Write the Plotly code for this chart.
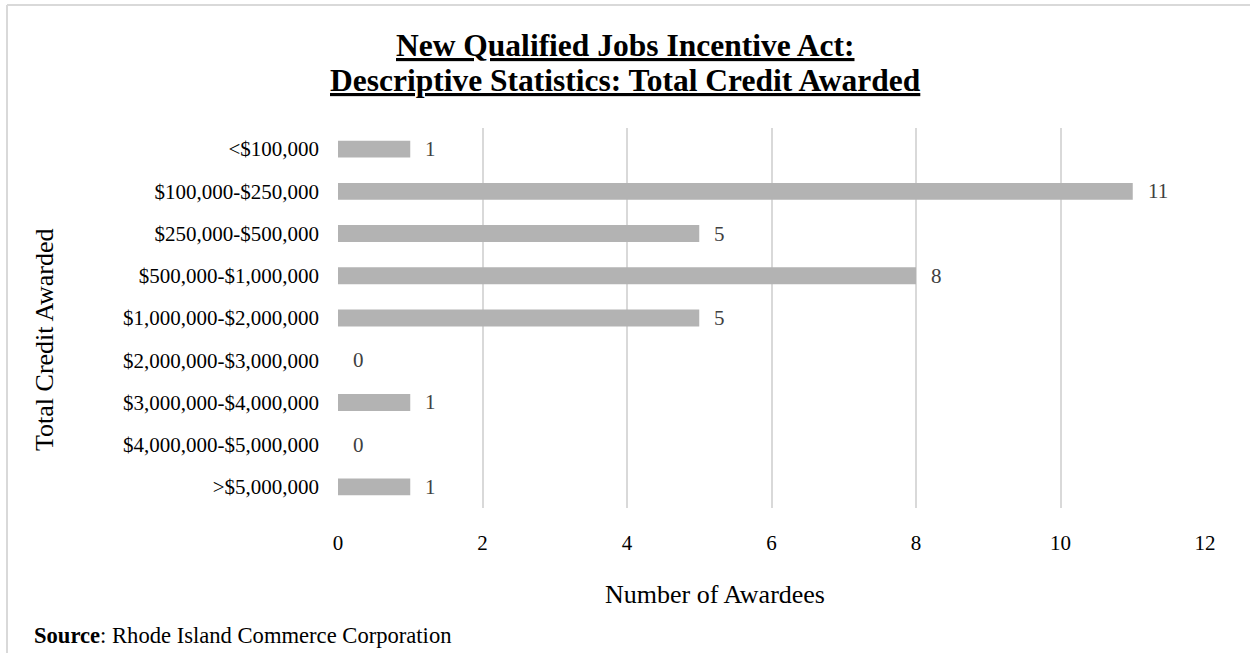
import plotly.graph_objects as go

# Credit award brackets and number of awardees in each
brackets = [
    "<$100,000",
    "$100,000-$250,000",
    "$250,000-$500,000",
    "$500,000-$1,000,000",
    "$1,000,000-$2,000,000",
    "$2,000,000-$3,000,000",
    "$3,000,000-$4,000,000",
    "$4,000,000-$5,000,000",
    ">$5,000,000",
]
awardees = [1, 11, 5, 8, 5, 0, 1, 0, 1]
x_ticks = [0, 2, 4, 6, 8, 10, 12]
title_lines = [
    "New Qualified Jobs Incentive Act:",
    "Descriptive Statistics: Total Credit Awarded",
]

FONT = "Liberation Serif, Times New Roman, serif"
W, H = 1250, 653
L, R, T, B = 338, 45, 128, 145
PW, PH = W - L - R, H - T - B


def px_x(px):
    return (px - L) / PW


def px_y(py):
    return 1 - (py - T) / PH


fig = go.Figure(
    go.Bar(
        x=awardees,
        y=brackets,
        orientation="h",
        marker=dict(color="#b3b3b3", line=dict(width=0)),
        width=0.4,
        hoverinfo="x+y",
    )
)

# Value labels to the right of each bar
for cat, val in zip(brackets, awardees):
    fig.add_annotation(
        x=val, y=cat, text=str(val), showarrow=False,
        xanchor="left", yanchor="middle", xshift=13,
        font=dict(family=FONT, size=21, color="#404040"),
    )

# Two-line underlined bold title
for line, yc in zip(title_lines, [45, 80]):
    fig.add_annotation(
        xref="paper", yref="paper", x=px_x(625), y=px_y(yc),
        text=f"<b><u>{line}</u></b>",
        showarrow=False, xanchor="center", yanchor="middle",
        font=dict(family=FONT, size=31.5, color="#000000"),
    )

fig.add_annotation(
    xref="paper", yref="paper", x=px_x(715), y=px_y(594),
    text="Number of Awardees", showarrow=False,
    xanchor="center", yanchor="middle",
    font=dict(family=FONT, size=26, color="#000000"),
)
fig.add_annotation(
    xref="paper", yref="paper", x=px_x(44), y=px_y(340),
    text="Total Credit Awarded", showarrow=False, textangle=-90,
    xanchor="center", yanchor="middle",
    font=dict(family=FONT, size=26, color="#000000"),
)
fig.add_annotation(
    xref="paper", yref="paper", x=px_x(32), y=px_y(635),
    text="<b>Source</b>: Rhode Island Commerce Corporation", showarrow=False,
    xanchor="left", yanchor="middle",
    font=dict(family=FONT, size=22.6, color="#000000"),
)

# Frame lines along the top and left edges
fig.add_shape(type="line", xref="paper", yref="paper",
              x0=px_x(7), x1=px_x(W), y0=px_y(5), y1=px_y(5),
              line=dict(color="#d9d9d9", width=2))
fig.add_shape(type="line", xref="paper", yref="paper",
              x0=px_x(7), x1=px_x(7), y0=px_y(5), y1=px_y(H),
              line=dict(color="#d9d9d9", width=2))

fig.update_layout(
    width=W, height=H,
    margin=dict(l=L, r=R, t=T, b=B),
    paper_bgcolor="white", plot_bgcolor="white",
    showlegend=False,
    font=dict(family=FONT, size=21, color="#000000"),
    xaxis=dict(
        range=[0, 12], tickvals=x_ticks, showgrid=True,
        gridcolor="#d9d9d9", gridwidth=1.5, zeroline=False,
        showline=False, ticks="", ticklabelstandoff=20,
        tickfont=dict(family=FONT, size=21, color="#000000"),
        fixedrange=True,
    ),
    yaxis=dict(
        autorange="reversed", showgrid=False, zeroline=False,
        showline=False, ticks="", ticklabelstandoff=18,
        tickfont=dict(family=FONT, size=21, color="#000000"),
        fixedrange=True,
    ),
)

fig.write_html("out.html")
